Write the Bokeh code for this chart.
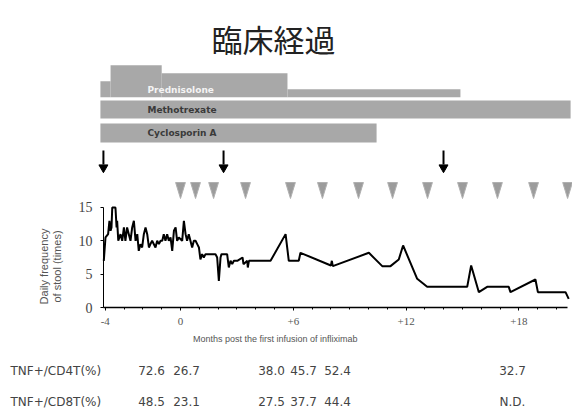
from math import pi
from bokeh.plotting import figure
from bokeh.models import LinearAxis, FixedTicker, Range1d
from bokeh.core.properties import value
from bokeh.embed import file_html
from bokeh.resources import INLINE

# ---------------- data ----------------
title_text = "臨床経過"

# daily frequency of stool (months from first infliximab infusion, times/day)
stool_month = [-4.08, -3.99, -3.85, -3.78, -3.72, -3.67, -3.63, -3.46, -3.40, -3.37,
               -3.31, -3.19, -3.10, -3.01, -2.93, -2.84, -2.75, -2.66, -2.57, -2.48,
               -2.39, -2.30, -2.22, -2.13, -2.04, -1.95, -1.86, -1.77, -1.68, -1.60,
               -1.51, -1.33, -1.24, -1.15, -1.06, -0.97, -0.89, -0.80, -0.71, -0.62,
               -0.53, -0.44, -0.35, -0.26, -0.18, -0.09, 0.09, 0.18, 0.27, 0.35,
               0.44, 0.62, 0.71, 0.80, 0.89, 0.98, 1.06, 1.15, 1.24, 1.33,
               1.86, 1.95, 2.04, 2.13, 2.18, 2.48, 2.57, 2.66, 2.75, 2.84,
               3.02, 3.30, 3.35, 3.55, 3.58, 3.64, 4.79, 5.59, 5.76, 6.29,
               6.38, 8.00, 8.05, 8.10, 10.02, 10.73, 11.17, 11.61, 11.84, 12.59,
               13.12, 15.25, 15.46, 15.87, 16.31, 17.46, 17.55, 18.88, 19.01, 20.48,
               20.65]
stool_value = [7, 10.5, 11, 13, 11.5, 12, 15, 15, 12, 13,
               10, 11, 10, 12, 10, 12, 11, 10, 12, 13,
               10, 11, 8.5, 9.5, 9, 11, 12, 11, 9, 9.5,
               10, 9, 10, 9.5, 10, 10, 11, 10, 11, 10,
               10.5, 8.5, 11.5, 12, 10, 10.5, 10, 13, 11, 10,
               11, 9, 10, 10, 9.5, 9, 7.2, 8, 7.5, 8,
               8, 7.5, 4, 7.5, 8, 8, 6, 7, 6.5, 7,
               7, 7.5, 6.5, 7, 6, 7, 7, 11, 7, 7,
               8.2, 6.3, 7.0, 6.2, 8.2, 6.2, 6.2, 7.2, 9.3, 4.3,
               3.1, 3.1, 6.3, 2.3, 3.1, 3.1, 2.3, 4.2, 2.3, 2.3,
               1.3]
assert len(stool_month) == len(stool_value)

# drug periods (months)
pred_start = [-4.26, -3.72, -1.0, 5.69]
pred_end = [-3.72, -1.0, 5.69, 14.89]
pred_dose = [2, 4, 3, 1]            # relative dose level
drug_names = ["Methotrexate", "Cyclosporin A"]
drug_start = [-4.26, -4.26]
drug_end = [20.75, 10.43]

arrow_months = [-4.1, 2.29, 13.99]
infusion_months = [0, 0.8, 1.76, 3.46, 5.85, 7.55, 9.47, 11.28, 13.14, 15.0, 16.86, 18.78, 20.59]

x_ticks = [-4, 0, 6, 12, 18]
x_tick_labels = ["-4", "0", "+6", "+12", "+18"]
y_ticks = [0, 5, 10, 15]

row_labels = ["TNF+/CD4T(%)", "TNF+/CD8T(%)"]
tnf_cd4 = [72.6, 26.7, 38.0, 45.7, 52.4, 32.7]
tnf_cd8 = [48.5, 23.1, 27.5, 37.7, 44.4, None]

# ---------------- layout ----------------
W, H = 572, 410
SX, X0 = 18.8, 180.0     # px per month, canvas px of month 0
KY, Y0 = 6.67, 307.0     # px per stool unit, canvas px of value 0


def mx(px):              # canvas pixel column -> months
    return (px - X0) / SX


def vy(py):              # canvas pixel row -> y data units
    return (Y0 - py) / KY


p = figure(width=W, height=H, output_backend="svg", toolbar_location=None,
           x_range=Range1d(-X0 / SX, (W - X0) / SX),
           y_range=Range1d((Y0 - H) / KY, Y0 / KY),
           x_axis_type=None, y_axis_type=None, min_border=0,
           outline_line_color=None, background_fill_color="white",
           border_fill_color="white")

BAR = "#a8a8a8"

# title
p.text(x=[mx(273)], y=[vy(38)], text=[title_text], text_font=value("Noto Sans CJK JP"),
       text_font_size="31px", text_align="center", text_baseline="middle", text_color="#222222")

# prednisolone (stepped by dose)
pb = 96.7
p.quad(left=pred_start, right=pred_end, bottom=[vy(pb)] * len(pred_start),
       top=[vy(pb - 8 * d) for d in pred_dose], fill_color=BAR, line_color=None)
p.text(x=[mx(147)], y=[vy(89)], text=["Prednisolone"], text_font=value("DejaVu Sans"),
       text_font_size="9px", text_font_style="bold", text_color="#f4f4f4",
       text_align="left", text_baseline="middle")

# other drugs
bar_tops = [100, 123]
bar_bots = [118, 142]
p.quad(left=drug_start, right=drug_end, bottom=[vy(b) for b in bar_bots],
       top=[vy(t) for t in bar_tops], fill_color=BAR, line_color=None)
p.text(x=[mx(147)] * 2, y=[vy((t + b) / 2) for t, b in zip(bar_tops, bar_bots)], text=drug_names,
       text_font=value("DejaVu Sans"), text_font_size="9px", text_font_style="bold",
       text_color="#3a3a3a", text_align="left", text_baseline="middle")

# arrows
p.segment(x0=arrow_months, y0=[vy(150)] * 3, x1=arrow_months, y1=[vy(164)] * 3,
          line_color="black", line_width=2)
p.scatter(x=arrow_months, y=[vy(167)] * 3, marker="inverted_triangle", size=9,
          fill_color="black", line_color="black")

# infusion triangles
p.patches(xs=[[m - 0.26, m + 0.26, m] for m in infusion_months],
          ys=[[vy(182), vy(182), vy(198)] for _ in infusion_months],
          fill_color="#9c9c9c", line_color="#b0b0b0", line_width=1)

# stool line
p.line(x=stool_month, y=stool_value, line_color="black", line_width=2)

# axes
yaxis = LinearAxis(fixed_location=mx(103), bounds=(0, 15), ticker=FixedTicker(ticks=y_ticks))
yaxis.axis_line_color = "black"
yaxis.axis_line_width = 1
yaxis.major_tick_in = 0
yaxis.major_tick_out = 3
yaxis.minor_tick_out = 0
yaxis.major_label_standoff = 8
yaxis.major_label_text_font = "Liberation Serif"
yaxis.major_label_text_font_size = "14px"
yaxis.major_label_text_color = "#444444"
p.add_layout(yaxis, "left")

xaxis = LinearAxis(fixed_location=0, bounds=(mx(103), mx(567)),
                   ticker=FixedTicker(ticks=x_ticks, minor_ticks=list(range(-4, 21))))
xaxis.major_label_overrides = {t: l for t, l in zip(x_ticks, x_tick_labels)}
xaxis.axis_line_color = "black"
xaxis.axis_line_width = 1.5
xaxis.major_tick_in = 0
xaxis.major_tick_out = 3
xaxis.minor_tick_in = 0
xaxis.minor_tick_out = 2
xaxis.major_label_standoff = 7
xaxis.major_label_text_font = "Liberation Serif"
xaxis.major_label_text_font_size = "11px"
xaxis.major_label_text_color = "#555555"
p.add_layout(xaxis, "below")

# axis titles
p.text(x=[mx(276)], y=[vy(338)], text=["Months post the first infusion  of infliximab"],
       text_font=value("Liberation Sans"), text_font_size="9px", text_color="#555555",
       text_align="center", text_baseline="middle")
p.text(x=[mx(43), mx(56)], y=[vy(266)] * 2, text=["Daily frequency", "of stool (times)"],
       angle=pi / 2, text_font=value("Liberation Sans"), text_font_size="11px",
       text_color="#555555", text_align="center", text_baseline="middle")

# table
col_x = [mx(c) for c in [151, 186, 271, 303, 337, 512]]
row_y = [vy(370), vy(401)]
p.text(x=[mx(10)] * 2, y=row_y, text=row_labels, text_font=value("DejaVu Sans"),
       text_font_size="12px", text_color="#444444", text_align="left", text_baseline="middle")
for vals, yy in zip([tnf_cd4, tnf_cd8], row_y):
    p.text(x=col_x, y=[yy] * len(col_x),
           text=["N.D." if v is None else f"{v:.1f}" for v in vals],
           text_font=value("DejaVu Sans"), text_font_size="12px", text_color="#444444",
           text_align="center", text_baseline="middle")

open("out.html", "w").write(file_html(p, INLINE))
